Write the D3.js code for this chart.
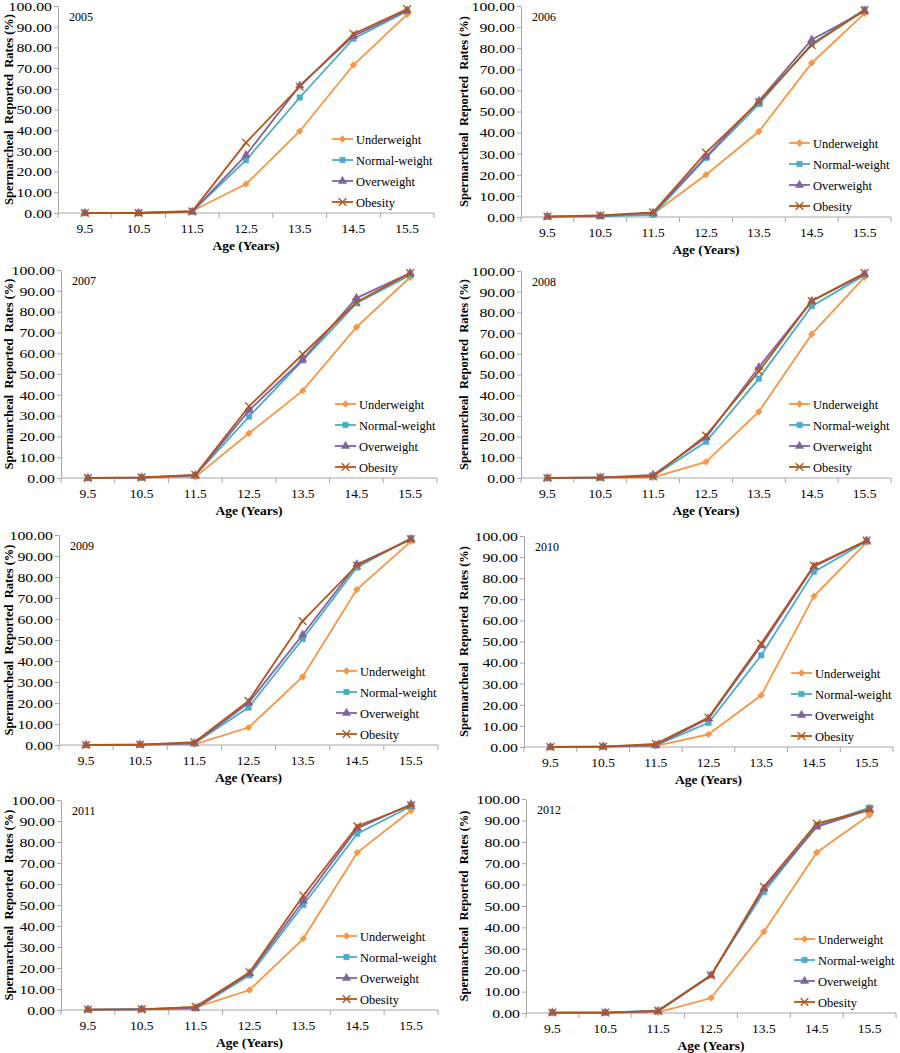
<!DOCTYPE html>
<html>
<head>
<meta charset="utf-8">
<script src="https://cdn.jsdelivr.net/npm/d3@7"></script>
<style>
  body { margin: 0; background: #fff; }
  svg text { font-family: "Liberation Serif", "DejaVu Serif", "Times New Roman", serif; fill: #000; }
</style>
</head>
<body>
<div id="chart"></div>
<script>
// categories
const ages = ["9.5", "10.5", "11.5", "12.5", "13.5", "14.5", "15.5"];
const years = ["2005", "2006", "2007", "2008", "2009", "2010", "2011", "2012"];
const groups = ["Underweight", "Normal-weight", "Overweight", "Obesity"];
const yTicks = [0, 10, 20, 30, 40, 50, 60, 70, 80, 90, 100];

// rates (%) per year, one row per year in the order of `years`
const underweight = [
  [0.0, 0.0, 1.0, 14.0, 39.5, 71.5, 96.0],
  [0.2, 0.8, 1.5, 20.0, 40.5, 73.0, 96.5],
  [0.0, 0.2, 0.5, 21.5, 42.0, 72.5, 96.5],
  [0.0, 0.1, 0.3, 7.8, 32.0, 69.5, 97.0],
  [0.0, 0.0, 0.3, 8.3, 32.5, 74.0, 97.0],
  [0.0, 0.2, 0.5, 6.0, 24.5, 71.5, 97.0],
  [0.2, 0.3, 1.3, 9.5, 34.0, 75.0, 95.0],
  [0.0, 0.1, 0.3, 7.0, 38.0, 75.0, 92.5]
];
const normalWeight = [
  [0.0, 0.0, 0.8, 25.5, 55.8, 84.2, 97.5],
  [0.2, 0.3, 1.0, 28.0, 53.5, 82.0, 98.5],
  [0.0, 0.2, 1.3, 29.5, 56.5, 84.0, 97.5],
  [0.0, 0.2, 0.8, 17.5, 48.0, 83.0, 98.0],
  [0.0, 0.2, 0.8, 17.8, 50.5, 84.5, 98.5],
  [0.0, 0.2, 0.8, 11.5, 43.5, 83.0, 97.5],
  [0.2, 0.5, 0.8, 16.5, 50.0, 84.0, 97.0],
  [0.2, 0.2, 1.2, 17.8, 56.5, 87.5, 96.0]
];
const overweight = [
  [0.0, 0.0, 0.5, 28.0, 61.5, 85.5, 97.8],
  [0.2, 0.4, 2.0, 28.5, 55.0, 84.0, 97.5],
  [0.0, 0.2, 1.3, 32.5, 57.0, 86.5, 98.5],
  [0.0, 0.2, 1.5, 19.5, 53.5, 85.5, 98.5],
  [0.0, 0.2, 0.8, 20.0, 52.5, 86.0, 98.0],
  [0.0, 0.2, 0.8, 13.5, 48.0, 85.5, 97.8],
  [0.2, 0.3, 0.8, 17.5, 52.0, 86.5, 98.0],
  [0.2, 0.2, 0.8, 17.5, 58.0, 87.0, 95.0]
];
const obesity = [
  [0.0, 0.0, 0.8, 34.0, 61.0, 86.5, 98.5],
  [0.2, 0.8, 2.2, 30.5, 54.5, 81.5, 98.0],
  [0.0, 0.3, 1.5, 34.5, 59.5, 84.5, 98.5],
  [0.0, 0.3, 0.8, 20.5, 51.5, 85.5, 99.0],
  [0.0, 0.2, 1.3, 21.0, 59.0, 85.5, 98.0],
  [0.0, 0.2, 1.5, 14.0, 49.0, 86.0, 97.8],
  [0.2, 0.3, 1.5, 18.0, 54.5, 87.5, 97.5],
  [0.2, 0.2, 1.0, 17.5, 59.0, 88.5, 95.0]
];

const seriesData = [underweight, normalWeight, overweight, obesity];
const colors = ["#f79646", "#4bacc6", "#8064a2", "#b25519"];
const symbols = [d3.symbolDiamond2, d3.symbolSquare, d3.symbolTriangle, d3.symbolX];

// plot areas (left, top, right, bottom) for each panel
const frames = [
  [58, 6, 434, 213], [521, 6, 891, 217],
  [61, 270, 437, 478], [521, 271, 891, 478],
  [59, 535, 438, 745], [524, 536, 893, 747],
  [61, 800, 438, 1010], [526, 799, 896, 1013]
];

const svg = d3.select("#chart").append("svg")
  .attr("width", 900)
  .attr("height", 1053);

const axisColor = "#a6a6a6";
const serif = '"Liberation Serif", "DejaVu Serif", serif';

years.forEach(function (year, i) {
  const [l, t, r, b] = frames[i];
  const w = r - l, h = b - t;
  const g = svg.append("g").attr("transform", "translate(" + l + "," + t + ")");

  const x = d3.scaleBand().domain(ages).range([0, w]);
  const y = d3.scaleLinear().domain([0, 100]).range([h, 0]);

  // y axis
  const yAxis = g.append("g")
    .call(d3.axisLeft(y).tickValues(yTicks).tickSize(4).tickSizeOuter(0)
      .tickFormat(d3.format(".2f")));
  yAxis.attr("font-family", serif);
  yAxis.select(".domain").attr("stroke", axisColor);
  yAxis.selectAll(".tick line").attr("stroke", axisColor);
  // labels in the source are drawn a bit wider than normal
  yAxis.selectAll("text")
    .attr("x", 0)
    .attr("transform", "translate(-6,0) scale(1.17,1)")
    .attr("font-size", 13.5);

  // x axis with ticks between categories
  const xg = g.append("g").attr("transform", "translate(0," + h + ")");
  xg.append("line").attr("x1", 0).attr("x2", w)
    .attr("stroke", axisColor);
  xg.selectAll(".sep").data(d3.range(ages.length + 1)).join("line")
    .attr("x1", (d) => d * x.step()).attr("x2", (d) => d * x.step())
    .attr("y1", 0).attr("y2", 5)
    .attr("stroke", axisColor);
  xg.selectAll(".lab").data(ages).join("text")
    .attr("x", (d) => x(d) + x.bandwidth() / 2)
    .attr("y", 20)
    .attr("text-anchor", "middle")
    .attr("font-size", 13.5)
    .text((d) => d);

  // titles
  g.append("text")
    .attr("x", w / 2)
    .attr("y", h + 37)
    .attr("text-anchor", "middle")
    .attr("font-size", 13.5)
    .attr("font-weight", "bold")
    .text("Age (Years)");

  const titleX = (i % 2 ? 468 : 13) - l;
  g.append("text")
    .attr("transform", "translate(" + titleX + "," + h / 2 + ") rotate(-90)")
    .attr("text-anchor", "middle")
    .attr("font-size", 12.5)
    .attr("font-weight", "bold")
    .text("Spermarcheal\u00a0\u00a0Reported\u00a0\u00a0Rates (%)");

  g.append("text")
    .attr("x", 11)
    .attr("y", 15)
    .attr("font-size", 12)
    .text(year);

  // series
  const line = d3.line()
    .x((d, k) => x(ages[k]) + x.bandwidth() / 2)
    .y((d) => y(d));

  seriesData.forEach(function (series, s) {
    const vals = series[i];
    g.append("path")
      .datum(vals)
      .attr("fill", "none")
      .attr("stroke", colors[s])
      .attr("stroke-width", 1.8)
      .attr("d", line);
    g.selectAll(".m" + s).data(vals).join("path")
      .attr("transform", (d, k) => "translate(" + (x(ages[k]) + x.bandwidth() / 2) + "," + y(d) + ")")
      .attr("d", d3.symbol(symbols[s], s === 3 ? 40 : 30))
      .attr("fill", s === 3 ? "none" : colors[s])
      .attr("stroke", colors[s])
      .attr("stroke-width", s === 3 ? 1.3 : 0.5);
  });

  // legend
  const lg = g.append("g").attr("transform", "translate(" + (w - 102) + "," + (h - 74) + ")");
  groups.forEach(function (name, s) {
    const row = lg.append("g").attr("transform", "translate(0," + s * 21 + ")");
    row.append("line").attr("x1", 0).attr("x2", 21)
      .attr("stroke", colors[s]).attr("stroke-width", 1.8);
    row.append("path")
      .attr("transform", "translate(10.5,0)")
      .attr("d", d3.symbol(symbols[s], s === 3 ? 40 : 30))
      .attr("fill", s === 3 ? "none" : colors[s])
      .attr("stroke", colors[s])
      .attr("stroke-width", s === 3 ? 1.3 : 0.5);
    row.append("text")
      .attr("x", 24)
      .attr("y", 4.5)
      .attr("font-size", 12.5)
      .text(name);
  });
});
</script>
</body>
</html>
